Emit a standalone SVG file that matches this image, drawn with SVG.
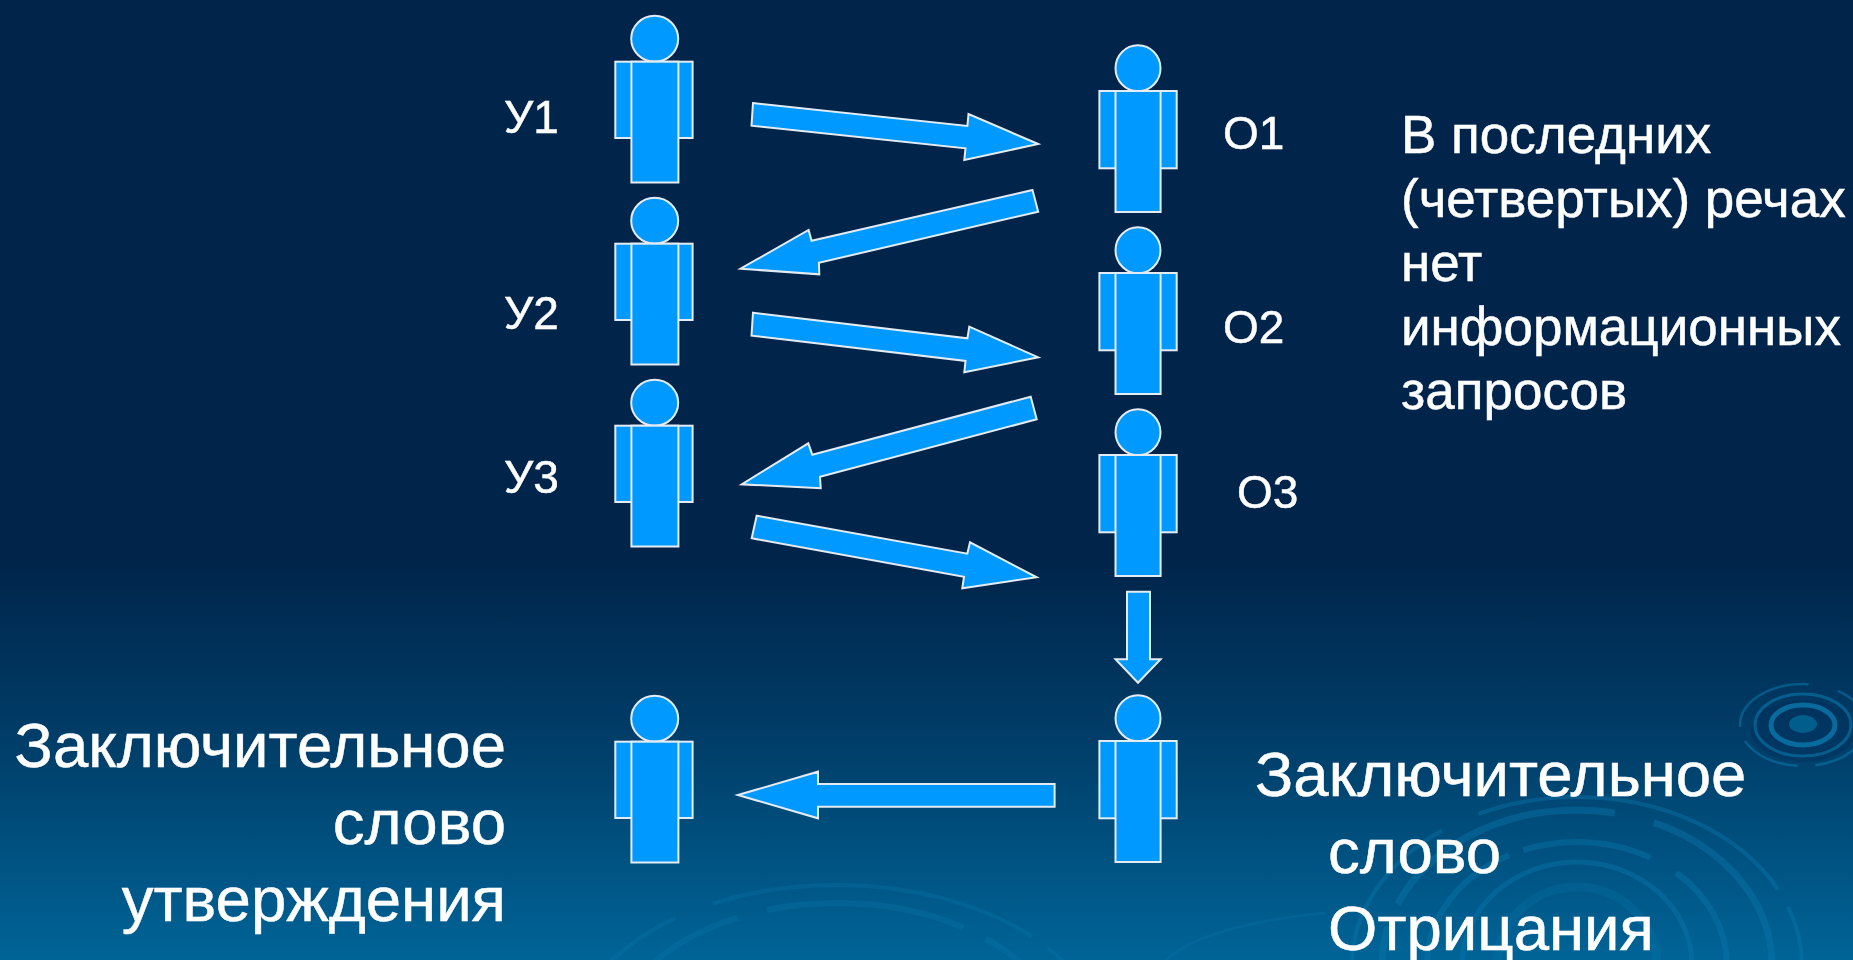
<svg xmlns="http://www.w3.org/2000/svg" width="1853" height="960" viewBox="0 0 1853 960">
<style>
.s{fill:#0099ff;stroke:#e4ecf2;stroke-width:2}
text{fill:#fff;stroke:#fff;stroke-width:.5;font-family:"Liberation Sans",Arial,sans-serif}
.a{font-size:46px}.b{font-size:53px}.c{font-size:63.5px}
.r{fill:none;stroke:#0a78ac;stroke-linecap:butt}
</style>
<defs>
<linearGradient id="bg" x1="0" y1="0" x2="0" y2="1">
<stop offset="0" stop-color="#00244a"/><stop offset="0.58" stop-color="#00244a"/><stop offset="0.78" stop-color="#003f6a"/><stop offset="1" stop-color="#006497"/>
</linearGradient>
<g id="pl"><ellipse class="s" cx="654.7" cy="38.8" rx="23.5" ry="23"/><rect class="s" x="615.3" y="61.7" width="77.3" height="76.3"/><rect class="s" x="631.4" y="61.7" width="47" height="120.8"/></g>
<g id="pr"><ellipse class="s" cx="1138" cy="68.3" rx="22.5" ry="23"/><rect class="s" x="1099.4" y="91" width="77.3" height="77.3"/><rect class="s" x="1115.5" y="91" width="45.1" height="121"/></g>
</defs>
<rect width="1853" height="960" fill="url(#bg)"/>
<g id="ripples">
<g opacity="0.42">
<ellipse class="r" cx="1577" cy="965" rx="225" ry="168" stroke-width="4" stroke-dasharray="330 20 240 30 170 40"/>
<ellipse class="r" cx="1577" cy="965" rx="195" ry="155" stroke-width="7" stroke-dasharray="250 40 300 25"/>
<ellipse class="r" cx="1577" cy="965" rx="150" ry="123" stroke-width="6" stroke-dasharray="200 15 130 30"/>
<ellipse class="r" cx="1577" cy="965" rx="115" ry="103" stroke-width="5"/>
<ellipse class="r" cx="1577" cy="965" rx="80" ry="78" stroke-width="9" opacity="0.6"/>
<path class="r" d="M1166 960Q1205 925 1325 913" stroke-width="3" opacity="0.6"/>
</g>
<g opacity="0.3">
<ellipse class="r" cx="837" cy="1045" rx="265" ry="160" stroke-width="4" stroke-dasharray="330 20 500 40"/>
<ellipse class="r" cx="837" cy="1045" rx="225" ry="142" stroke-width="6" stroke-dasharray="260 30 200 25"/>
</g>
<g>
<ellipse cx="1803" cy="731" rx="52" ry="31" fill="#002c55" opacity="0.35"/>
<ellipse class="r" cx="1803" cy="725" rx="63" ry="41" stroke-width="2.5" stroke-dasharray="70 18 60 15 90 30" opacity="0.55"/>
<ellipse class="r" cx="1803" cy="725" rx="48" ry="31" stroke-width="3" opacity="0.6"/>
<ellipse class="r" cx="1803" cy="725" rx="32" ry="20" stroke-width="5" opacity="0.8"/>
<ellipse cx="1803" cy="724" rx="14" ry="9" fill="#005d8c"/>
</g>
</g>
<g id="connectors">
<polygon class="s" points="753,103 967.4,126 968.5,114 1038.2,144 964.3,160 965.5,148.3 751.5,125.7"/>
<polygon class="s" points="1032.5,190 1038.2,211.7 818.9,262.7 819.3,274.3 740.5,268.7 808.6,230 811.6,240.7"/>
<polygon class="s" points="753,312.7 967.4,338.3 969.3,326.7 1038.2,357.3 964.3,372.3 965.5,361 751.5,335.7"/>
<polygon class="s" points="1030.7,396.7 1036.7,419.3 820,476.7 820.7,488.3 741.7,484.3 808.3,443.3 812.3,454.7"/>
<polygon class="s" points="756.7,515.7 967.3,553.7 970,542.3 1036.7,577.3 962.3,588.3 964,576.7 751.7,538.3"/>
<polygon class="s" points="1127,591.7 1150,591.7 1150,659.3 1160.6,659.3 1138,682.7 1115.5,659.3 1127,659.3"/>
<polygon class="s" points="1054.6,784 818,784 818,771.7 737.8,795 818,818.3 818,806.7 1054.6,806.7"/>
</g>
<g id="u1"><use href="#pl"/><text class="a" x="504" y="133">У1</text></g>
<g id="u2"><use href="#pl" y="182"/><text class="a" x="504" y="329">У2</text></g>
<g id="u3"><use href="#pl" y="364"/><text class="a" x="504" y="493">У3</text></g>
<g id="o1"><use href="#pr"/><text class="a" x="1223" y="149">О1</text></g>
<g id="o2"><use href="#pr" y="182"/><text class="a" x="1223" y="343">О2</text></g>
<g id="o3"><use href="#pr" y="364"/><text class="a" x="1237" y="508">О3</text></g>
<g id="final-u"><use href="#pl" y="680"/><text class="c" text-anchor="end" x="506" y="767">Заключительное</text><text class="c" text-anchor="end" x="506" y="844">слово</text><text class="c" text-anchor="end" x="506" y="921">утверждения</text></g>
<g id="final-o"><use href="#pr" y="650"/><text class="c" x="1255" y="796">Заключительное</text><text class="c" x="1328" y="873">слово</text><text class="c" x="1328" y="950">Отрицания</text></g>
<g id="note"><text class="b" x="1401" y="153">В последних</text><text class="b" x="1401" y="217">(четвертых) речах</text><text class="b" x="1401" y="281">нет</text><text class="b" x="1401" y="345">информационных</text><text class="b" x="1401" y="409">запросов</text></g>
</svg>
